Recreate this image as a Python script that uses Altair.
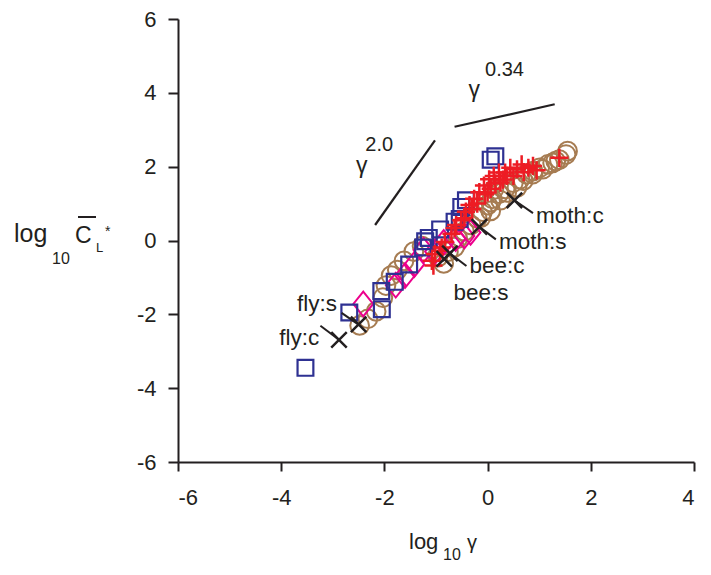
import altair as alt
import pandas as pd

# ---------------- data (log10 gamma, log10 CL*) ----------------
sq_x = [-3.53, -2.68, -2.05, -2.06, -1.80, -1.52, -1.25, -1.21, -1.14, -0.92, -0.64, -0.54, -0.51, -0.42, 0.06, 0.15]
sq_y = [-3.45, -1.95, -1.86, -1.37, -1.12, -0.65, -0.19, -0.02, 0.07, 0.30, 0.51, 0.58, 0.91, 1.09, 2.19, 2.28]

dia_x = [-2.41, -1.78, -1.60, -1.42, -1.24, -1.02, -0.85, -0.62, -0.45, -0.33]
dia_y = [-1.72, -1.21, -0.95, -0.65, -0.26, -0.30, -0.05, 0.05, 0.12, 0.22]

cir_x = [-2.48, -2.32, -2.16, -2.03, -1.97, -1.87, -1.75, -1.62, -1.43, -1.27, -0.96, -0.85,
         -0.76, -0.64, -0.58, -0.45, -0.32, -0.20, -0.13, -0.10, 0.00, 0.06, 0.06, 0.09,
         0.12, 0.22, 0.25, 0.34, 0.37, 0.50, 0.57, 0.63, 0.69, 0.75, 0.88, 0.88, 1.01,
         1.07, 1.17, 1.26, 1.32, 1.39, 1.52, 1.55]
cir_y = [-2.30, -2.12, -1.92, -1.55, -1.22, -0.95, -0.80, -0.55, -0.30, -0.15, -0.45, -0.62,
         -0.30, -0.18, 0.05, 0.25, 0.42, 0.60, 0.62, 0.78, 0.96, 0.80, 1.04, 1.13,
         1.38, 1.27, 1.09, 1.40, 1.30, 1.57, 1.44, 1.66, 1.62, 1.80, 1.80, 1.88, 1.97,
         1.93, 2.06, 2.10, 2.15, 2.19, 2.33, 2.42]

plus_x = [-1.05, -1.08, -1.02, -0.92, -0.89, -0.83, -0.70, -0.64, -0.61, -0.51, -0.45, -0.42,
          -0.35, -0.30, -0.26, -0.20, -0.16, -0.07, -0.05, 0.00, 0.03, 0.06, 0.12, 0.15,
          0.22, 0.25, 0.30, 0.34, 0.37, 0.44, 0.50, 0.57, 0.66, 0.70, 0.79, 0.88, 0.95, 1.39]
plus_y = [-0.68, -0.55, -0.37, -0.28, -0.19, -0.04, 0.18, 0.34, 0.42, 0.55, 0.60, 0.78,
          0.96, 0.85, 1.13, 1.00, 1.31, 1.49, 1.25, 1.30, 1.66, 1.40, 1.75, 1.55,
          1.84, 1.57, 1.65, 1.84, 1.75, 1.97, 1.75, 1.93, 2.06, 1.85, 1.97, 2.02, 1.90, 2.24]

x_names = ["fly:c", "fly:s", "bee:s", "bee:c", "moth:s", "moth:c"]
x_x = [-2.88, -2.50, -0.84, -0.73, -0.16, 0.52]
x_y = [-2.69, -2.27, -0.50, -0.35, 0.37, 1.09]

# leader lines (start -> end)
lead_x = [-3.24, -2.83, -0.73, -0.16, 0.52]
lead_y = [-2.31, -1.96, -0.35, 0.37, 1.09]
lead_x2 = [-2.88, -2.50, -0.41, 0.16, 0.88]
lead_y2 = [-2.69, -2.28, -0.69, 0.03, 0.74]

# text labels
lab_right = ["fly:s", "fly:c"]
lab_right_x = [-2.92, -3.26]
lab_right_y = [-1.73, -2.63]
lab_left = ["bee:c", "bee:s", "moth:s", "moth:c"]
lab_left_x = [-0.35, -0.66, 0.22, 0.94]
lab_left_y = [-0.69, -1.43, -0.03, 0.66]

# slope guide lines
slope_x = [-2.18, -0.64]
slope_y = [0.42, 3.08]
slope_x2 = [-1.02, 1.30]
slope_y2 = [2.71, 3.69]
gam_x = [-2.44, -0.26]
gam_y = [2.02, 4.09]
exp_txt = ["2.0", "0.34"]
exp_x = [-2.37, -0.05]
exp_y = [2.60, 4.62]

INK = "#231F20"
FONT = "Liberation Sans"

xs = alt.Scale(domain=[-6, 4], nice=False, zero=False)
ys = alt.Scale(domain=[-6, 6], nice=False, zero=False)
xax = alt.Axis(values=[-6, -4, -2, 0, 2, 4], title=None, grid=False, tickSize=9,
               labelPadding=16, labelExpr="'' + datum.value")
yax = alt.Axis(values=[-6, -4, -2, 0, 2, 4, 6], title=None, grid=False, tickSize=10,
               labelPadding=12, labelExpr="'' + datum.value")


def XE(f="x"):
    return alt.X(f"{f}:Q", scale=xs, axis=xax)


def YE(f="y"):
    return alt.Y(f"{f}:Q", scale=ys, axis=yax)


def pts(xv, yv):
    return pd.DataFrame({"x": xv, "y": yv})


circles = alt.Chart(pts(cir_x, cir_y)).mark_point(
    shape="circle", size=350, filled=False, stroke="#A67C52", strokeWidth=2, opacity=1
).encode(x=XE(), y=YE())

diamonds = alt.Chart(pts(dia_x, dia_y)).mark_point(
    shape="M0,-1.25L1,0L0,1.25L-1,0Z", size=390, filled=False, stroke="#EC008C",
    strokeWidth=2, opacity=1
).encode(x=XE(), y=YE())

squares = alt.Chart(pts(sq_x, sq_y)).mark_point(
    shape="square", size=250, filled=False, stroke="#2E3192", strokeWidth=2.2, opacity=1
).encode(x=XE(), y=YE())

pluses = alt.Chart(pts(plus_x, plus_y)).mark_point(
    shape="M-1,0L1,0M0,-1L0,1", size=330, filled=False, stroke="#ED1C24",
    strokeWidth=2.5, opacity=1
).encode(x=XE(), y=YE())

leaders = alt.Chart(pd.DataFrame({"x": lead_x, "y": lead_y, "x2": lead_x2, "y2": lead_y2})).mark_rule(
    color=INK, strokeWidth=2
).encode(x=XE(), y=YE(), x2="x2:Q", y2="y2:Q")

xmarks = alt.Chart(pd.DataFrame({"x": x_x, "y": x_y, "name": x_names})).mark_point(
    shape="M-1,-1L1,1M-1,1L1,-1", size=240, filled=False, stroke=INK,
    strokeWidth=2.5, opacity=1
).encode(x=XE(), y=YE())

labels_r = alt.Chart(pd.DataFrame({"x": lab_right_x, "y": lab_right_y, "t": lab_right})).mark_text(
    align="right", baseline="middle", font=FONT, fontSize=22.5, color=INK
).encode(x=XE(), y=YE(), text="t:N")

labels_l = alt.Chart(pd.DataFrame({"x": lab_left_x, "y": lab_left_y, "t": lab_left})).mark_text(
    align="left", baseline="middle", font=FONT, fontSize=22.5, color=INK
).encode(x=XE(), y=YE(), text="t:N")

slopes = alt.Chart(pd.DataFrame({"x": slope_x, "y": slope_y, "x2": slope_x2, "y2": slope_y2})).mark_rule(
    color=INK, strokeWidth=2.2
).encode(x=XE(), y=YE(), x2="x2:Q", y2="y2:Q")

gammas = alt.Chart(pd.DataFrame({"x": gam_x, "y": gam_y, "t": ["γ", "γ"]})).mark_text(
    align="center", baseline="middle", font=FONT, fontSize=23, color=INK
).encode(x=XE(), y=YE(), text="t:N")

exps = alt.Chart(pd.DataFrame({"x": exp_x, "y": exp_y, "t": exp_txt})).mark_text(
    align="left", baseline="middle", font=FONT, fontSize=20, color=INK
).encode(x=XE(), y=YE(), text="t:N")

# ---------------- axis titles (composed text) ----------------
one = pd.DataFrame({"a": [0]})


def ttext(txt, px, py, size, baseline="alphabetic"):
    return alt.Chart(one).mark_text(
        text=txt, align="left", baseline=baseline, font=FONT, fontSize=size, color=INK
    ).encode(x=alt.value(px), y=alt.value(py))


# y-axis title pieces, pixel offsets from the plot's top-left corner
ytitle = [
    ttext("log", -164, 223, 25),
    ttext("10", -126, 245, 16),
    ttext("C", -103, 224, 23),
    ttext("L", -82, 233, 13),
    ttext("*", -73, 217, 14),
]
overline = alt.Chart(one).mark_rule(color=INK, strokeWidth=2).encode(
    x=alt.value(-100), x2=alt.value(-82), y=alt.value(198)
)
xtitle = [
    ttext("log", 231, 530, 22),
    ttext("10", 265, 541, 16),
    ttext("γ", 289, 530, 20),
]

chart = alt.layer(
    circles, diamonds, squares, pluses, leaders, xmarks, labels_r, labels_l,
    slopes, gammas, exps, overline, *ytitle, *xtitle
).properties(
    width=516, height=443,
    autosize=alt.AutoSizeParams(type="none"),
    padding={"left": 170, "top": 11, "right": 8, "bottom": 104},
).configure_view(stroke=None).configure_axis(
    domainColor=INK, domainWidth=2, tickColor=INK, tickWidth=2,
    labelFont=FONT, labelFontSize=22, labelColor=INK,
)

chart.save("out.html", embed_options={"renderer": "svg", "actions": False})
